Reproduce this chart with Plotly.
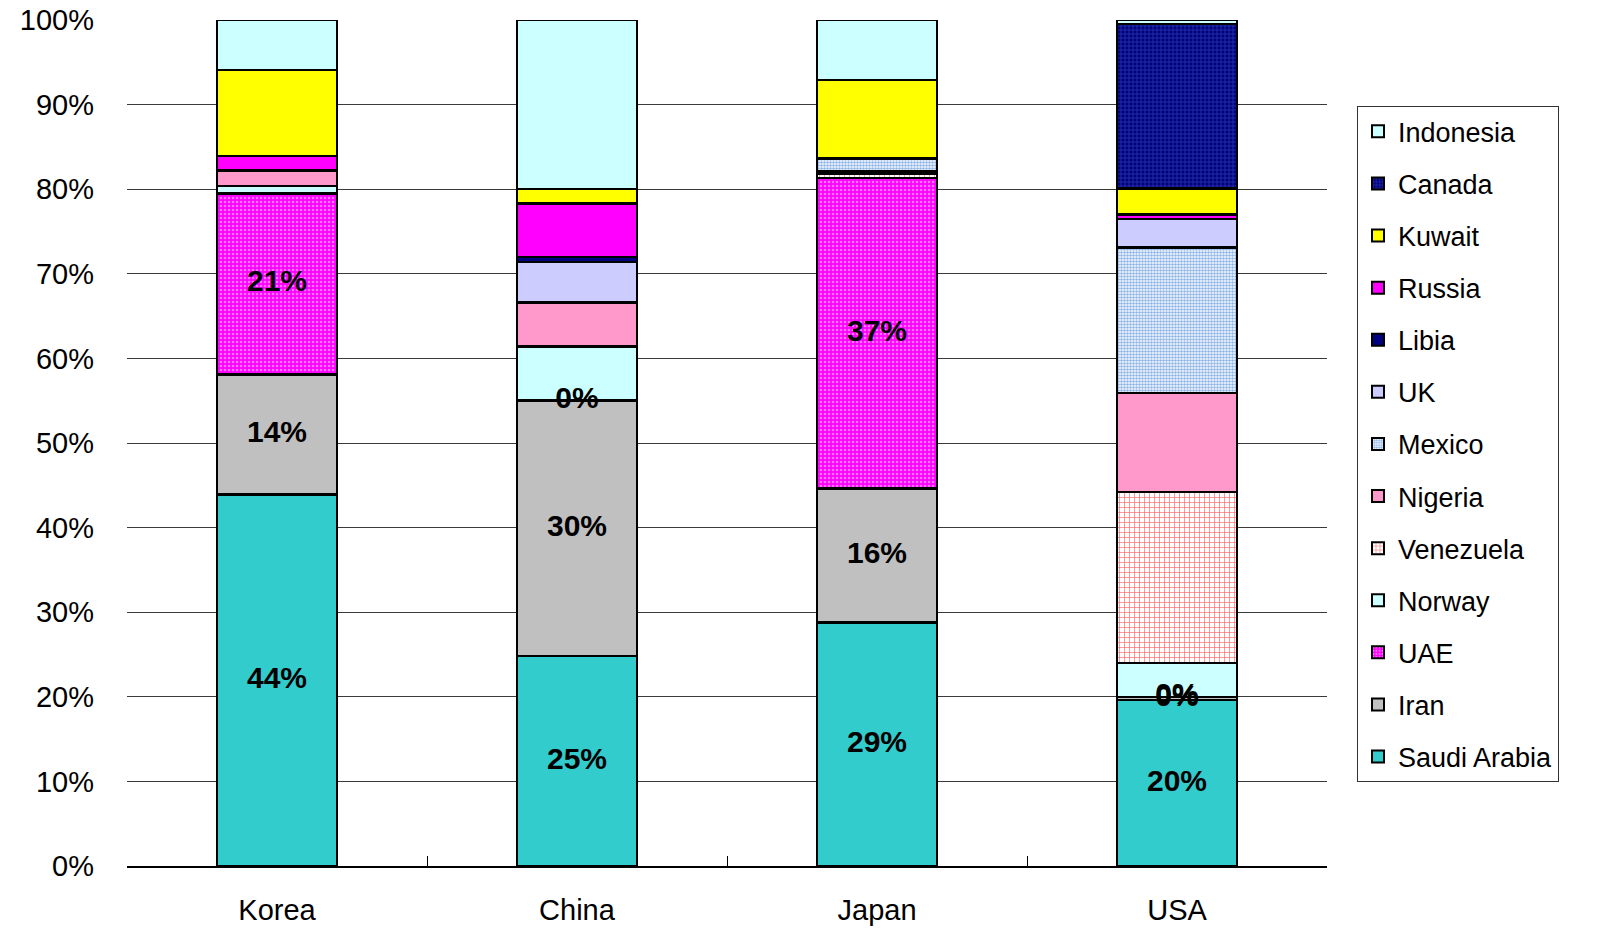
import plotly.graph_objects as go

countries = ["Korea", "China", "Japan", "USA"]

# stacking order, bottom to top
saudi_arabia = [43.9, 24.8, 28.8, 19.6]
iran         = [14.2, 30.2, 15.8, 0.4]
uae          = [21.4, 0.0, 36.7, 0.0]
norway       = [0.9, 6.4, 0.0, 4.0]
venezuela    = [0.0, 0.0, 0.5, 20.2]
nigeria      = [1.8, 5.2, 0.3, 11.7]
mexico       = [0.0, 0.0, 1.5, 17.2]
uk           = [0.0, 4.8, 0.0, 3.4]
libia        = [0.0, 0.6, 0.0, 0.0]
russia       = [1.7, 6.3, 0.0, 0.5]
kuwait       = [10.2, 1.7, 9.3, 3.1]
canada       = [0.0, 0.0, 0.0, 19.4]
indonesia    = [5.9, 20.0, 7.1, 0.5]

y_ticks = [0, 10, 20, 30, 40, 50, 60, 70, 80, 90, 100]

series = [
    ("Saudi Arabia", saudi_arabia, "#33CCCC", None),
    ("Iran", iran, "#C0C0C0", None),
    ("UAE", uae, "#FF00FF", dict(shape=".", bgcolor="#FF00FF", fgcolor="#FF77FF", size=4, solidity=0.35)),
    ("Norway", norway, "#CCFFFF", None),
    ("Venezuela", venezuela, "#FFFFFF", dict(shape="+", bgcolor="#FFFFFF", fgcolor="#FF6666", size=5, solidity=0.25)),
    ("Nigeria", nigeria, "#FF99CC", None),
    ("Mexico", mexico, "#FFFFFF", dict(shape=".", bgcolor="#FFFFFF", fgcolor="#8FB4E8", size=3, solidity=0.55)),
    ("UK", uk, "#CCCCFF", None),
    ("Libia", libia, "#000080", None),
    ("Russia", russia, "#FF00FF", None),
    ("Kuwait", kuwait, "#FFFF00", None),
    ("Canada", canada, "#000080", dict(shape="+", bgcolor="#000080", fgcolor="#3040B0", size=4, solidity=0.3)),
    ("Indonesia", indonesia, "#CCFFFF", None),
]
labelled = ["Saudi Arabia", "Iran", "UAE"]

fig = go.Figure()
n = len(series)
for i, (name, vals, color, pat) in enumerate(series):
    marker = dict(color=color, line=dict(color="#000000", width=2.5))
    if pat:
        marker["pattern"] = dict(fillmode="replace", **pat)
    fig.add_trace(go.Bar(
        x=countries, y=vals, name=name, marker=marker,
        legendgroup=name, legendrank=n - i,
    ))

# data labels for selected series, placed at the middle of each segment
lx, ly, lt = [], [], []
cum = [0.0] * len(countries)
for name, vals, color, pat in series:
    for j, v in enumerate(vals):
        if name in labelled:
            lx.append(countries[j])
            ly.append(cum[j] + v / 2)
            lt.append(f"{round(v):.0f}%")
        cum[j] += v
fig.add_trace(go.Scatter(
    x=lx, y=ly, text=lt, mode="text", showlegend=False, hoverinfo="skip",
    textfont=dict(family="Liberation Sans", size=30, color="#000000", weight="bold"),
    textposition="middle center", cliponaxis=False,
))

fig.update_layout(
    barmode="stack",
    bargap=0.6,
    width=1622, height=928,
    margin=dict(l=127, r=295, t=20, b=62),
    plot_bgcolor="#FFFFFF", paper_bgcolor="#FFFFFF",
    font=dict(family="Liberation Sans", size=29, color="#000000"),
    legend=dict(
        x=1.025, y=0.898, xanchor="left", yanchor="top",
        traceorder="grouped", tracegroupgap=14,
        bordercolor="#333333", borderwidth=1,
        font=dict(family="Liberation Sans", size=27, color="#000000"),
        itemsizing="constant",
    ),
    showlegend=True,
)
fig.update_xaxes(
    automargin=False,
    showline=True, linecolor="#000000", linewidth=1.5,
    ticks="inside", tickson="boundaries", ticklen=10, tickcolor="#000000",
    ticklabelstandoff=17,
    tickfont=dict(size=29),
)
fig.update_yaxes(
    automargin=False,
    range=[0, 100], tickvals=y_ticks, ticktext=[f"{t}%" for t in y_ticks],
    showgrid=True, gridcolor="#3A3A3A", gridwidth=1,
    showline=False, zeroline=False, ticks="",
    ticklabelstandoff=32,
    tickfont=dict(size=29),
)
fig.write_html("out.html")
